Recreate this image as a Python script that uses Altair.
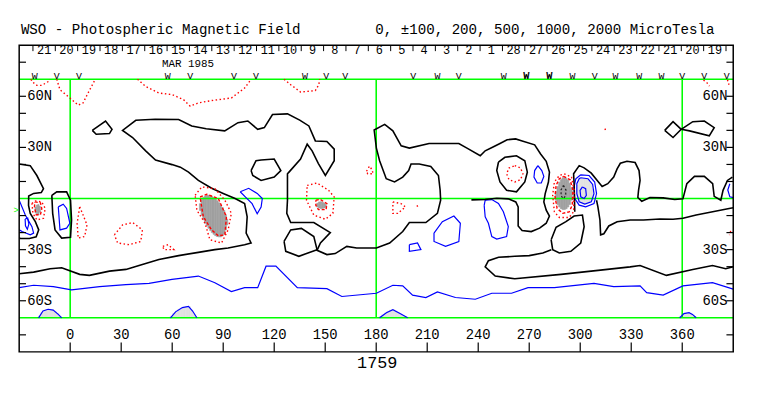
import altair as alt
import pandas as pd

# ---------------- axis / annotation values ----------------
LON_DOMAIN = [-30, 390]
LAT_DOMAIN = [-90, 90]
lon_ticks = [0, 30, 60, 90, 120, 150, 180, 210, 240, 270, 300, 330, 360]
lat_minor_ticks = [80, 60, 50, 40, 30, 20, 10, -10, -20, -30, -40, -50, -60, -80]
lat_label_values = [60, 30, -30, -60]
lat_label_text = ["60N", "30N", "30S", "60S"]
grid_lons = [0, 180, 360]
grid_lats = [70, 0, -70]
day_tick_lons = [-21.9, -8.75, 4.4, 17.55, 30.7, 43.85, 57.0, 70.15, 83.3, 96.45, 109.6,
                 122.75, 135.9, 149.05, 162.2, 175.35, 188.5, 201.65, 214.8, 227.95, 241.1,
                 254.25, 267.4, 280.55, 293.7, 306.85, 320.0, 333.15, 346.3, 359.45, 372.6, 385.75]
day_label_lons = [-15.3, -2.2, 11.0, 24.1, 37.3, 50.4, 63.6, 76.7, 89.9, 103.0, 116.2, 129.3,
                  142.5, 155.6, 168.8, 181.9, 195.1, 208.2, 221.4, 234.5, 247.7, 260.8, 274.0,
                  287.1, 300.3, 313.4, 326.6, 339.7, 352.9, 366.0, 379.2]
day_labels = ["21", "20", "19", "18", "17", "16", "15", "14", "13", "12", "11", "10", "9", "8",
              "7", "6", "5", "4", "3", "2", "1", "28", "27", "26", "25", "24", "23", "22", "21",
              "20", "19"]
marker_lons = [-20.9, -7.9, 5.1, 57.4, 70.6, 96.4, 109.3, 138.1, 150.6, 161.7, 201.8, 216.0,
               228.6, 255.0, 295.5, 308.5, 320.7, 334.7, 347.8, 360.0, 373.0, 386.2]
marker_glyphs = ["W", "V", "V", "W", "V", "V", "V", "W", "V", "V", "V", "W", "V", "W",
                 "W", "V", "W", "W", "W", "V", "V", "V"]
bold_marker_lons = [268.3, 281.9]
bold_marker_glyphs = ["W", "W"]

TITLE_LEFT = "WSO - Photospheric Magnetic Field"
TITLE_RIGHT = "0, \u00b1100, 200, 500, 1000, 2000 MicroTesla"
DATE_TEXT = "MAR 1985"
ROTATION = "1759"

# ---------------- contour lines (lon, lat) ----------------
black_main = [(-30, -44.1), (-21.5, -43.2), (-11.8, -41.2), (-5, -40.6), (5.6, -44.5), (11.3, -45.1),
              (23.1, -42.6), (32.8, -41.6), (40.5, -39.3), (52.2, -35.8), (63.8, -33.5), (75.4, -31.6),
              (85.1, -30), (92.9, -29), (102.6, -27.1), (106.4, -26.1), (103.5, -20.3), (104.1, -10.7),
              (102.6, -3), (97, 0), (90, 3), (83.2, 6), (75.4, 10.6), (69.6, 15.5), (64.8, 18.4),
              (59.9, 19.9), (50.2, 22.6), (44.4, 28), (36.7, 35.8), (30.8, 40), (38.6, 45.9), (50, 46.5),
              (63.8, 46.4), (71.5, 42.6), (80, 41), (90.9, 39.7), (98.7, 44.5), (104.5, 45.5),
              (110.3, 40.6), (114.2, 41.6), (119, 49.3), (127.8, 49.7), (135, 46), (140.4, 42.6),
              (144.2, 33.8), (151, 33.5), (155.3, 29), (155.3, 22.2), (150.1, 13.5), (146, 20.5),
              (142.3, 28), (139.4, 31.9), (135.5, 23.2), (128.7, 15.5), (127.8, 14.5), (127.8, 5),
              (127.8, -1), (127.4, -8.7), (129.7, -14.1), (143.3, -14.1), (153, -20), (147.2, -26.1),
              (145.2, -30.4), (151, -32.9), (155.9, -32.3), (162.7, -28.1), (168.5, -29), (180.1, -29),
              (187.9, -26.1), (195.6, -19.4), (199.5, -14.1), (209.2, -14.1), (216, -8.7), (217.9, -1),
              (217.6, 5), (216.6, 13.5), (212.1, 18.8), (205.3, 20.3), (200.5, 20.3), (199.1, 16.4),
              (195.6, 12.6), (190.8, 9.7), (185.9, 11.6), (182, 22.2), (180.1, 29.6), (178.8, 40.2),
              (185, 43.5), (189.8, 39.7), (194.7, 30.9), (199.5, 29.6), (211.1, 32.3), (228.6, 32.3),
              (233.4, 29.6), (241.2, 25.1), (244.1, 28), (249, 30.4), (252.8, 32.3), (257, 34.5),
              (262, 35), (265.4, 33.9), (273.2, 31.5), (276.7, 26.1), (280, 21.8), (281.9, 15.5),
              (281.3, 9.7), (279.4, 2.9), (278.6, -2), (280, -6.8), (281.9, -10.3), (280, -14.5),
              (276.1, -17.4), (271.2, -19.4), (265.8, -18.8), (263.5, -16.1), (263.5, -4.9),
              (262.1, -2), (257.7, -0.2), (250.9, 0.2), (244.1, -0.6), (236, -0.8)]
black_band_r = [(283, -30), (278, -32), (270, -33.5), (261.5, -33.9), (252, -34.5), (246, -36.5),
                (244.1, -40.1), (250, -45.5), (261.5, -47.1), (288.7, -44.5), (311.9, -42),
                (329.4, -40.1), (335.2, -39.3), (350.7, -45.1), (366.2, -41.6), (377.8, -39.3),
                (385.6, -41.2), (390, -40.1)]
black_divider = [(296.8, -7.8), (296.6, 0), (296.4, 8.7), (296.1, 14.5), (299.4, 19.3), (302.3, 18),
                 (306.5, 14.9), (310, 10.6), (312.9, 7.1), (316.2, 8.7), (319.7, 12.6), (321.7, 17.4),
                 (323.6, 20.7), (327.5, 21.9), (332.3, 21.1), (334.6, 16.4), (335.2, 10.6),
                 (334.3, 4.8), (333.9, 0.6), (336.2, -1.6), (341, 0.6), (348.8, 0.4), (355.6, -0.6),
                 (360.4, -0.2), (362.7, 8.7), (367.2, 13), (373, 13), (377.9, 8.7), (378.8, 1.3),
                 (382.7, -1), (384, 4.8), (386.6, 10.6), (389.5, 12.6)]
black_right_low = [(309.6, -1), (310.4, -4.9), (311.6, -12.6), (312, -21.3), (313.9, -20.7),
                   (316.8, -16.1), (321.7, -13.6), (329.4, -12.6), (337.2, -12.6), (346.9, -12),
                   (354.6, -12.2), (360.4, -11.6), (368.2, -9.7), (377.9, -7.8), (387.6, -5.8),
                   (390, -5.4)]
black_diamond = [(13, 40), (20.8, 45.5), (24.6, 40.6), (23.1, 38.1), (15.3, 37.7), (13, 40)]
black_oval_n = [(106.4, 16.4), (109.3, 22.2), (112.3, 22.6), (120, 23.2), (123.9, 16.4), (120, 12.6),
                (112.3, 10.6), (107.4, 13.5), (106.4, 16.4)]
black_loop_s = [(125.8, -25.2), (129.7, -18.4), (136, -17.5), (143.3, -22.3), (145.2, -30),
                (134.5, -33.9), (126.8, -31), (125.8, -25.2)]
black_bow1 = [(349.7, 40), (354.6, 45.1), (359.4, 40.6), (354.6, 35.8), (349.7, 40)]
black_bow2 = [(359.4, 40.6), (366.2, 45.1), (373, 45.5), (378.8, 41.6), (375.9, 36.8), (364.3, 39.7),
              (359.4, 40.6)]
black_ring_261 = [(251.9, 21.3), (255.7, 24.2), (262.5, 25.1), (267.4, 22.2), (268.9, 15.5),
                  (267.4, 9.7), (262.5, 3.9), (256.7, 4.8), (252.8, 9.7), (250.9, 16.4), (251.9, 21.3)]
black_spot_s = [(282.9, -24.2), (285.8, -16.9), (291.6, -13.6), (296.4, -10.3), (301.3, -9.7),
                (302.3, -16.5), (300.3, -26.1), (294.5, -31), (287.7, -32), (283.8, -30), (282.9, -24.2)]
black_left = [(-30, 20.3), (-23.5, 19.3), (-19.6, 13.5), (-15.7, 5.8), (-17, 3.5), (-21.5, 3),
              (-24.4, 1.5), (-24.5, -4), (-23.5, -8.7), (-20.5, -13.6), (-18.5, -18.4), (-20, -22.5),
              (-24, -23.5), (-29.3, -23.5), (-30, -23)]
black_loop_0 = [(-10.8, 1.9), (-7.9, 3.9), (-2.1, 3.9), (0.2, -1), (0.8, -12.6), (0.2, -22.7),
                (-5, -23.2), (-8.9, -18.4), (-10.3, -8.7), (-10.8, 1.9)]

blue_south = [(-30, -52.3), (-21.5, -50.9), (-9.9, -51.7), (0.8, -53.6), (17.3, -51.7), (32.8, -50.5),
              (46.4, -49.8), (59.9, -47.4), (75.4, -45.5), (85.1, -49.4), (94.8, -54.6), (102.6, -52.3),
              (110.3, -52.3), (115.2, -39.7), (121, -39.7), (133.6, -52.3), (151, -52.9), (159.8, -57.5),
              (180.1, -55.6), (189.8, -50.9), (195.6, -51.3), (201.4, -56.7), (209.2, -58.1),
              (216, -54.8), (226.6, -58.1), (238.3, -59.1), (248, -55.6), (259.6, -55.6),
              (269.3, -52.3), (284.8, -52.3), (308.1, -49.8), (319.7, -51.7), (335.2, -51.3),
              (339.1, -55.2), (348.8, -56.7), (360.4, -51.3), (377.8, -49.4), (390, -53.2)]
blue_loop_214 = [(214, -20.3), (218.9, -13.6), (225.7, -10.3), (229.5, -14.5), (228.6, -25.2),
                 (220.8, -28.1), (214, -25.2), (214, -20.3)]
blue_small_200 = [(199.5, -27.1), (204.3, -26.1), (206.3, -30), (199.5, -31), (199.5, -27.1)]
blue_loop_250 = [(243.5, -4), (244.1, -1), (248, -0.6), (251.9, -2.9), (254.8, -7.8), (257.7, -16.5),
                 (256.7, -22.3), (250.9, -23.8), (248, -22.3), (246, -14.5), (244.1, -10.7), (243.5, -4)]
blue_left_edge = [(-30, -1), (-26.4, -9.7), (-22.5, -16.5), (-21.5, -20.3), (-23.5, -21.3),
                  (-28.3, -19.4), (-30, -18.4)]
blue_inner_left = [(-26.5, -12), (-25, -11.5), (-24.3, -15), (-25.2, -18), (-26.3, -16), (-26.5, -12)]
blue_loop_0 = [(-7, -4.9), (-4.1, -3.3), (-2.1, -5.8), (-0.2, -14.5), (-2.1, -17.4), (-6, -18.4),
               (-7, -4.9)]
blue_loop_105 = [(100, 4), (105, 6), (110, 3), (113, 0), (112.3, -5), (110, -9), (107, -3), (103, 1),
                 (100, 4)]
blue_spot_out = [(300.3, 13.9), (305.2, 13.5), (308.5, 9.7), (309.6, 2.9), (308.1, -2.9),
                 (303.2, -4.9), (299.4, -3.9), (296.8, 0), (296.4, 6.8), (297.4, 11.6), (300.3, 13.9)]
blue_spot_mid = [(300.3, 12.2), (304.6, 11.6), (307.3, 8.3), (308.1, 2.9), (306.5, -1.95),
                 (302.7, -3.3), (299.4, -1.95), (298, 2.9), (298, 8.7), (299.4, 11.6), (300.3, 12.2)]
blue_spot_in = [(301.3, 6.8), (303.2, 5.8), (303.6, 1.9), (302.3, 0), (300.3, 1), (299.9, 4.8),
                (301.3, 6.8)]
blue_small_275 = [(275.1, 19.3), (277.4, 16.4), (278.6, 13), (277.1, 9.1), (274.7, 9.1),
                  (272.8, 12.6), (273.2, 16.4), (275.1, 19.3)]
blue_right_edge = [(388, 8.7), (386.8, 5), (388, 1), (390, 0.5)]
blue_bump_1 = [(-18.6, -70), (-16, -66), (-13, -65), (-10, -65.5), (-7, -68), (-5, -70)]
blue_bump_2 = [(59, -70), (62, -66.5), (66, -64), (69.6, -63.3), (72, -66), (74.5, -70)]
blue_bump_3 = [(182, -70), (186, -67), (189.8, -65.2), (194, -67.5), (198.5, -70)]
blue_bump_4 = [(358.5, -70), (361, -67.5), (364, -67), (366, -68), (368.2, -70)]

red_top_1 = [(-23, 70), (-22.5, 68.7), (-19.6, 66.4), (-16.7, 66.4), (-12.8, 68.7), (-12, 70)]
red_top_2 = [(-7.9, 70), (-6, 63.8), (-0.2, 59), (4.7, 54.8), (7.6, 56.1), (10.5, 61.9), (14.4, 69.3),
             (14.8, 70)]
red_top_3 = [(39.6, 70), (44.4, 65.8), (52.2, 61.9), (59.9, 61), (66.7, 58), (70.6, 54.2), (75.4, 56.1),
             (83.2, 57.5), (94.8, 59), (102.6, 64.8), (105.5, 68.7), (106.5, 70)]
red_top_4 = [(125.8, 70), (129.7, 66.8), (135.5, 62.5), (144.2, 63.3), (146.2, 66.8), (146.8, 70)]
red_top_5 = [(372.5, 69.5), (374.5, 68), (376, 66)]
red_top_6 = [(386.6, 69.7), (387.5, 66.8)]
red_left_gray = [(-22.5, -2.9), (-20.5, -1.4), (-16.7, -2), (-14.7, -5.8), (-15.7, -11.6),
                 (-19.6, -12.6), (-21.9, -8.7), (-22.5, -2.9)]
red_5 = [(5.6, -4.9), (7.2, -8.7), (9.9, -15.5), (8.5, -22.3), (4.7, -23.2), (4.1, -14.5), (5.6, -4.9)]
red_30 = [(26, -21.3), (30.8, -15.5), (36.7, -14.1), (42.5, -18.4), (41.5, -25.2), (34.7, -27.1),
          (27.9, -26.1), (26, -21.3)]
red_55 = [(54.5, -28.1), (57.6, -27.1), (60.9, -30), (55.1, -30), (54.5, -28.1)]
red_80_out = [(73.5, 1.9), (77.4, 6.8), (85.1, 5.8), (91, -1), (94.8, -8.7), (92.9, -18.4), (89, -26.1),
              (82.2, -24.2), (79.3, -14.5), (74.5, -6.8), (73.5, 1.9)]
red_148 = [(139.4, 7.7), (145.2, 9.1), (152, 4.8), (155.3, 0.9), (154.5, -8.7), (150.1, -12.2),
           (143.3, -9.7), (139, -1), (139.4, 7.7)]
red_192 = [(189.8, -2), (194.6, -3), (197.2, -4.9), (192.7, -8.7), (189.8, -8.7), (189.8, -2)]
red_204 = [(204, -4), (204.5, -5)]
red_176 = [(174.3, 16), (176, 19), (177.5, 17), (178.2, 14.5), (175, 14.5), (174.3, 16)]
red_261 = [(261.5, 19.3), (264.9, 17.9), (266.3, 14.5), (264.9, 11.1), (261.5, 9.7), (258.1, 11.1),
           (256.7, 14.5), (258.1, 17.9), (261.5, 19.3)]
red_315 = [(314.5, 41), (315, 40)]
red_right = [(388.5, -19), (387.8, -21.5)]
red_spot_out = [(290.6, 14.5), (294.9, 12.6), (296.4, 4.8), (296.1, -7.8), (293.5, -11.1),
                (287.7, -11.1), (284.8, -7.8), (283.8, 1.9), (284.8, 9.7), (287.7, 13.5), (290.6, 14.5)]

dash_80 = [(76.4, 0.9), (80.3, 2.5), (87.1, 0), (91.9, -10.7), (91, -21.3), (87.1, -21.9),
           (83.2, -18.4), (78.3, -10.7), (76.4, 0.9)]
dash_spot = [(290.2, 13), (294.1, 11), (295.7, 4.8), (295.3, -3.9), (293.5, -7.8), (289.7, -8.7),
             (286.4, -5.8), (285.2, 1), (285.8, 7.7), (287.7, 11.6), (290.2, 13)]
dash_148 = [(144.5, -1), (147, -0.5), (151, -3), (150.5, -6.5), (146, -6.5), (144.5, -4), (144.5, -1)]
dash_left = [(-20.8, -2), (-17.5, -2.5), (-16.7, -6), (-17.5, -9.5), (-20, -9.5), (-21, -5), (-20.8, -2)]
dark_dash_spot = [(290.1, 7.7), (291.6, 5), (291.4, 1.5), (290.1, 0), (288.8, 1.5), (288.7, 5),
                  (290.1, 7.7)]

# ---------------- filled blobs: samples (lon, top lat, bottom lat) ----------------
gray_80 = [(76.5, -3, -7), (77.5, -0.5, -10), (78.5, 0.8, -12.5), (79.5, 1.5, -14.5), (80.5, 1.9, -16),
           (81.5, 1.9, -17.5), (82.5, 1.7, -18.8), (83.5, 1.2, -20), (84.5, 0.5, -21), (85.5, -0.3, -21.8),
           (86.5, -1.3, -22.3), (87.5, -2.5, -22.5), (88.5, -3.8, -22.5), (89.5, -5.3, -22),
           (90.5, -7, -21), (91.5, -9.5, -18.5), (92.3, -12, -15.5)]
gray_left = [(-20.3, -5, -8.5), (-19.5, -3.8, -9.7), (-18.7, -3.5, -9.5), (-17.9, -4.5, -8)]
gray_148 = [(145.5, -2.8, -5), (146.5, -2, -5.6), (147.5, -1.9, -5.8), (148.5, -2.2, -5.8),
            (149.5, -2.8, -5.5), (150.3, -3.5, -5)]
gray_spot = [(285.8, 4, -1), (286.8, 7, -3.5), (287.8, 9.6, -5), (288.8, 11.2, -6), (289.8, 12.2, -6.4),
             (290.8, 12.2, -6.4), (291.8, 11.8, -6), (292.8, 10.8, -5), (293.8, 9, -3.5), (294.8, 6, -1)]
light_spot = [(298.5, 8, 0), (299.5, 10.5, -1.5), (300.5, 11.5, -2.5), (301.5, 11.8, -3),
              (302.5, 11.8, -3.2), (303.5, 11.5, -3.2), (304.5, 11, -2.8), (305.5, 10, -2.2),
              (306.5, 8.3, -1.5), (307.5, 5.5, -0.5)]
light_b1 = [(-18, -69, -70), (-16.5, -67, -70), (-15, -65.8, -70), (-13.5, -65.2, -70), (-12, -65, -70),
            (-10.5, -65.3, -70), (-9, -66.2, -70), (-7.5, -67.5, -70), (-6, -69, -70)]
light_b2 = [(59.5, -69, -70), (61, -67.3, -70), (62.5, -66, -70), (64, -65, -70), (65.5, -64.3, -70),
            (67, -63.8, -70), (68.5, -63.4, -70), (70, -63.5, -70), (71.5, -65.5, -70), (73, -67.8, -70),
            (74, -69.3, -70)]
light_b3 = [(182.5, -69.3, -70), (184, -68.2, -70), (185.5, -67.2, -70), (187, -66.2, -70),
            (188.5, -65.5, -70), (190, -65.3, -70), (191.5, -66, -70), (193, -67, -70), (194.5, -68, -70),
            (196, -68.8, -70), (197.5, -69.5, -70)]
light_b4 = [(359, -69, -70), (360.5, -68, -70), (362, -67.3, -70), (363.5, -67, -70), (365, -67.3, -70),
            (366.5, -68.3, -70), (367.7, -69.3, -70)]

# ---------------- build tables ----------------
def lines_df(groups):
    rows = []
    for name, pts in groups.items():
        for i, (lo, la) in enumerate(pts):
            rows.append({"id": name, "i": i, "lon": lo, "lat": la})
    return pd.DataFrame(rows)


def slices_df(groups):
    """Each sample becomes a vertical slice reaching halfway to its neighbours."""
    rows = []
    for name, pts in groups.items():
        lons = [p[0] for p in pts]
        for k, (lo, top, bot) in enumerate(pts):
            left = (lons[k - 1] + lo) / 2 if k > 0 else lo - (lons[1] - lo) / 2
            right = (lons[k + 1] + lo) / 2 if k < len(pts) - 1 else lo + (lo - lons[k - 1]) / 2
            rows.append({"id": name, "lon": left, "lon2": right, "lat": top, "lat2": bot})
    return pd.DataFrame(rows)


XS = alt.Scale(domain=LON_DOMAIN, nice=False, zero=False)
YS = alt.Scale(domain=LAT_DOMAIN, nice=False, zero=False)
FONT = "Liberation Mono"


def X(f="lon"):
    return alt.X(f"{f}:Q", scale=XS, axis=None)


def Y(f="lat"):
    return alt.Y(f"{f}:Q", scale=YS, axis=None)


def line_layer(groups, color, width, dash=None):
    kw = dict(color=color, strokeWidth=width, clip=True)
    if dash:
        kw["strokeDash"] = dash
    return alt.Chart(lines_df(groups)).mark_line(**kw).encode(
        x=X(), y=Y(), detail="id:N", order="i:Q")


def blob_layer(groups, color):
    return alt.Chart(slices_df(groups)).mark_rect(
        fill=color, stroke=color, strokeWidth=0.6, clip=True).encode(
        x=X(), x2="lon2:Q", y=Y(), y2="lat2:Q")


fills_dark = blob_layer({"g80": gray_80, "gl": gray_left, "g148": gray_148, "gs": gray_spot}, "#a0a0a0")
fills_light = blob_layer({"ls": light_spot, "b1": light_b1, "b2": light_b2, "b3": light_b3,
                          "b4": light_b4}, "#e2e2e2")

black = line_layer({"main": black_main, "bandr": black_band_r, "div": black_divider,
                    "rlow": black_right_low, "diamond": black_diamond, "oval": black_oval_n,
                    "loops": black_loop_s, "bow1": black_bow1, "bow2": black_bow2,
                    "ring": black_ring_261, "spots": black_spot_s, "left": black_left,
                    "l0": black_loop_0}, "black", 1.6)
blue = line_layer({"south": blue_south, "b214": blue_loop_214, "b200": blue_small_200,
                   "b250": blue_loop_250, "ble": blue_left_edge, "bil": blue_inner_left,
                   "b0": blue_loop_0, "b105": blue_loop_105, "bso": blue_spot_out,
                   "bsm": blue_spot_mid, "bsi": blue_spot_in, "b275": blue_small_275,
                   "bre": blue_right_edge, "bb1": blue_bump_1, "bb2": blue_bump_2,
                   "bb3": blue_bump_3, "bb4": blue_bump_4}, "#0000ff", 1.2)
red_dot = line_layer({"t1": red_top_1, "t2": red_top_2, "t3": red_top_3, "t4": red_top_4,
                      "t5": red_top_5, "t6": red_top_6, "lg": red_left_gray, "r5": red_5,
                      "r30": red_30, "r55": red_55, "r80": red_80_out, "r148": red_148,
                      "r192": red_192, "r204": red_204, "r176": red_176, "r261": red_261,
                      "r315": red_315, "rr": red_right, "rso": red_spot_out},
                     "#ff0000", 1.4, [1.5, 2.5])
red_dash = line_layer({"d80": dash_80, "dsp": dash_spot, "d148": dash_148, "dl": dash_left},
                      "#ff0000", 1.4, [3, 2])
dark_dash = line_layer({"dd": dark_dash_spot}, "#222222", 1.2, [2, 2])

# frame
frame = alt.Chart(pd.DataFrame({"lon": [LON_DOMAIN[0]], "lon2": [LON_DOMAIN[1]],
                                "lat": [LAT_DOMAIN[0]], "lat2": [LAT_DOMAIN[1]]})).mark_rect(
    fillOpacity=0, stroke="black", strokeWidth=1.5).encode(x=X(), x2="lon2:Q", y=Y(), y2="lat2:Q")

# green grid
gv = alt.Chart(pd.DataFrame({"lon": grid_lons, "lat": [-70] * 3, "lat2": [70] * 3})).mark_rule(
    color="#00ff00", strokeWidth=1.6).encode(x=X(), y=Y(), y2="lat2:Q")
gh = alt.Chart(pd.DataFrame({"lat": grid_lats, "lon": [-30] * 3, "lon2": [390] * 3})).mark_rule(
    color="#00ff00", strokeWidth=1.6).encode(x=X(), x2="lon2:Q", y=Y())

# ticks
xt = alt.Chart(pd.DataFrame({"lon": lon_ticks, "lat": [-90] * len(lon_ticks),
                             "lat2": [-84.5] * len(lon_ticks)})).mark_rule(
    color="black", strokeWidth=1.2).encode(x=X(), y=Y(), y2="lat2:Q")
n = len(lat_minor_ticks)
lt = alt.Chart(pd.DataFrame({"lat": lat_minor_ticks * 2, "lon": [-30] * n + [390] * n,
                             "lon2": [-26] * n + [386] * n})).mark_rule(
    color="black", strokeWidth=1.2).encode(x=X(), x2="lon2:Q", y=Y())
dt = alt.Chart(pd.DataFrame({"lon": day_tick_lons, "lat": [90] * len(day_tick_lons),
                             "lat2": [86.5] * len(day_tick_lons)})).mark_rule(
    color="black", strokeWidth=1).encode(x=X(), y=Y(), y2="lat2:Q")


def text_layer(df, size, align="center", color="black", weight="normal"):
    return alt.Chart(df).mark_text(font=FONT, fontSize=size, align=align, baseline="middle",
                                   color=color, fontWeight=weight).encode(x=X(), y=Y(), text="t:N")


xl = text_layer(pd.DataFrame({"lon": lon_ticks, "lat": [-80.4] * len(lon_ticks),
                              "t": [str(v) for v in lon_ticks]}), 14)
yl_left = text_layer(pd.DataFrame({"lon": [-25.3] * 4, "lat": lat_label_values,
                                   "t": lat_label_text}), 14, "left")
yl_right = text_layer(pd.DataFrame({"lon": [386.6] * 4, "lat": lat_label_values,
                                    "t": lat_label_text}), 14, "right")
days = text_layer(pd.DataFrame({"lon": day_label_lons, "lat": [87.0] * len(day_labels),
                                "t": day_labels}), 12)
marks = text_layer(pd.DataFrame({"lon": marker_lons, "lat": [71.6] * len(marker_lons),
                                 "t": marker_glyphs}), 10)
bold_marks = text_layer(pd.DataFrame({"lon": bold_marker_lons, "lat": [71.6] * len(bold_marker_lons),
                                      "t": bold_marker_glyphs}), 10.5, weight="bold")
date = text_layer(pd.DataFrame({"lon": [69.3], "lat": [78.7], "t": [DATE_TEXT]}), 11)
t_left = text_layer(pd.DataFrame({"lon": [-29.0], "lat": [98.6], "t": [TITLE_LEFT]}), 14.3, "left")
t_right = text_layer(pd.DataFrame({"lon": [179.5], "lat": [98.6], "t": [TITLE_RIGHT]}), 14.3, "left")
rot = text_layer(pd.DataFrame({"lon": [180.6], "lat": [-96.3], "t": [ROTATION]}), 17)
gmark = text_layer(pd.DataFrame({"lon": [-31.8], "lat": [-6.7], "t": [">"]}), 9, "center", "#00ff00")

chart = alt.layer(
    fills_light, fills_dark, gv, gh, blue, black, red_dot, red_dash, dark_dash,
    frame, xt, lt, dt, xl, yl_left, yl_right, days, marks, bold_marks, date, t_left, t_right,
    rot, gmark
).properties(
    width=721.7, height=310,
    padding={"left": 11.3, "top": 35.5, "right": 22, "bottom": 40},
    autosize=alt.AutoSizeParams(type="none"),
).configure_view(strokeOpacity=0)

chart.save("out.html", embed_options={"renderer": "svg", "actions": False})
